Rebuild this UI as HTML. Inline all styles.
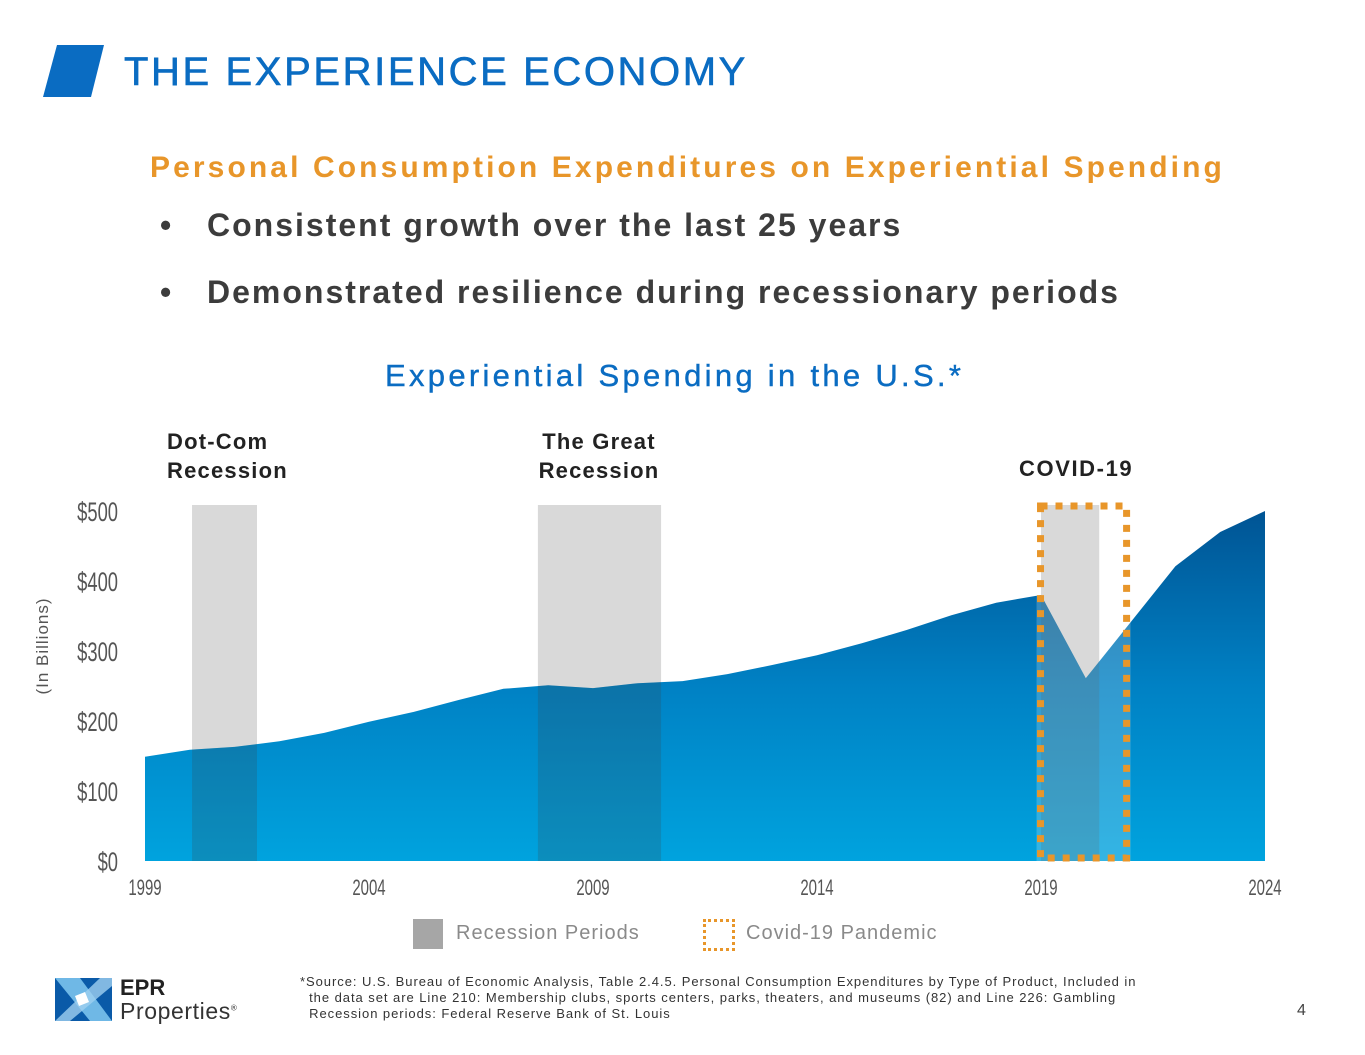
<!DOCTYPE html>
<html><head><meta charset="utf-8"><style>
body{margin:0;width:1365px;height:1055px;background:#fff;overflow:hidden;font-family:"Liberation Sans",sans-serif;position:relative}
.abs{position:absolute;white-space:nowrap}
</style></head><body>
<div class="abs" style="left:43px;top:45px;width:0;height:0;border-bottom:52px solid #0a6cc2;border-left:14px solid transparent;border-right:0;"></div>
<div class="abs" style="left:57px;top:45px;width:34px;height:52px;background:#0a6cc2"></div>
<div class="abs" style="left:91px;top:45px;width:0;height:0;border-top:52px solid #0a6cc2;border-right:13px solid transparent"></div>
<div class="abs" style="left:124px;top:50px;font-size:40px;color:#0a6cc2;letter-spacing:2.6px;-webkit-text-stroke:0.6px #0a6cc2">THE EXPERIENCE ECONOMY</div>
<div class="abs" style="left:150px;top:151px;font-size:30px;font-weight:bold;color:#e8962a;letter-spacing:3.1px">Personal Consumption Expenditures on Experiential Spending</div>
<div class="abs" style="left:160px;top:207px;font-size:32px;font-weight:bold;color:#3c3c3c;letter-spacing:2px">•<span style="position:absolute;left:47px">Consistent growth over the last 25 years</span></div>
<div class="abs" style="left:160px;top:274px;font-size:32px;font-weight:bold;color:#3c3c3c;letter-spacing:2px">•<span style="position:absolute;left:47px">Demonstrated resilience during recessionary periods</span></div>
<div class="abs" style="left:385px;top:358px;font-size:31px;color:#0a6cc2;letter-spacing:3.3px;-webkit-text-stroke:0.4px #0a6cc2">Experiential Spending in the U.S.*</div>
<div class="abs" style="left:167px;top:427px;font-size:22px;font-weight:bold;color:#222;line-height:29px;letter-spacing:1.2px">Dot-Com<br>Recession</div>
<div class="abs" style="left:536px;top:427px;width:126px;font-size:22px;font-weight:bold;color:#222;line-height:29px;text-align:center;letter-spacing:1.2px">The Great<br>Recession</div>
<div class="abs" style="left:1019px;top:456px;font-size:22px;font-weight:bold;color:#222;letter-spacing:1.6px">COVID-19</div>
<svg class="abs" style="left:0;top:0" width="1365" height="1055" id="chart">
<defs><linearGradient id="g" x1="0" y1="0" x2="0" y2="1"><stop offset="0" stop-color="#005494"/><stop offset="0.5" stop-color="#0081c4"/><stop offset="1" stop-color="#00a3de"/></linearGradient>
<clipPath id="ac"><path id="acp"/></clipPath></defs>
<text transform="translate(48,646) rotate(-90)" text-anchor="middle" font-size="17" fill="#555" letter-spacing="1">(In Billions)</text>
</svg>
<div class="abs" style="left:413px;top:919px;width:30px;height:30px;background:#a6a6a6"></div>
<div class="abs" style="left:456px;top:922px;font-size:20px;color:#8a8a8a;letter-spacing:1px">Recession Periods</div>
<div class="abs" style="left:703px;top:919px;width:26px;height:26px;border:3px dotted #e8962a"></div>
<div class="abs" style="left:746px;top:922px;font-size:20px;color:#8a8a8a;letter-spacing:1px">Covid-19 Pandemic</div>
<div class="abs" style="left:55px;top:978px;width:57px;height:43px;background:#0a5aa8;overflow:hidden">
<svg width="57" height="43"><polygon points="0,0 25,0 57,43 35,43" fill="#6fb8e6"/><polygon points="0,43 15,43 57,8 57,0 45,0" fill="#9fd0f0" opacity="0.8"/><polygon points="20,18 30,14 34,24 24,28" fill="#fff"/></svg></div>
<div class="abs" style="left:120px;top:975px;font-size:22px;font-weight:bold;color:#222">EPR</div>
<div class="abs" style="left:120px;top:998px;font-size:23px;color:#333;letter-spacing:0.6px">Properties<sup style="font-size:8px">®</sup></div>
<div class="abs" style="left:300px;top:974px;font-size:13px;color:#333;line-height:16px;letter-spacing:0.95px">*Source: U.S. Bureau of Economic Analysis, Table 2.4.5. Personal Consumption Expenditures by Type of Product, Included in<br>&nbsp;&nbsp;the data set are Line 210: Membership clubs, sports centers, parks, theaters, and museums (82) and Line 226: Gambling<br>&nbsp;&nbsp;Recession periods: Federal Reserve Bank of St. Louis</div>
<div class="abs" style="left:1297px;top:1002px;font-size:16px;color:#444">4</div>
<script>
const years=[1999,2000,2001,2002,2003,2004,2005,2006,2007,2008,2009,2010,2011,2012,2013,2014,2015,2016,2017,2018,2019,2020,2021,2022,2023,2024];
const spending=[149,159,163,171,183,199,213,230,246,251,247,254,257,267,280,294,311,330,351,369,380,261,341,421,470,500];
const yTicks=[0,100,200,300,400,500];
const xTicks=[1999,2004,2009,2014,2019,2024];
const recessions=[[2000.05,2001.5],[2007.77,2010.52],[2019.0,2020.3]];
const covid=[2018.9,2021.0];
const NS="http://www.w3.org/2000/svg";
const svg=document.getElementById('chart');
const x=v=>145+(v-1999)*44.8;
const y=v=>861-v*0.7;
function mk(t,a){const e=document.createElementNS(NS,t);for(const k in a)e.setAttribute(k,a[k]);svg.appendChild(e);return e;}
let d='M'+x(years[0])+','+y(0);
years.forEach((yr,i)=>{d+=' L'+x(yr)+','+y(spending[i]);});
d+=' L'+x(years[years.length-1])+','+y(0)+' Z';
document.getElementById('acp').setAttribute('d',d);
recessions.forEach((r,i)=>{const e=mk('rect',{x:x(r[0]),y:505,width:x(r[1])-x(r[0]),height:861-505,fill:'#d9d9d9'});

});
const area=mk('path',{d:d,fill:'url(#g)'});


recessions.forEach((r,i)=>{const e=mk('rect',{x:x(r[0]),y:505,width:x(r[1])-x(r[0]),height:861-505,fill:'#3a3a3a',opacity:0.2,'clip-path':'url(#ac)'});

});
const co=mk('rect',{x:x(covid[0]),y:505,width:x(covid[1])-x(covid[0]),height:356,fill:'#fff',opacity:0.2,'clip-path':'url(#ac)'});


const cb=mk('rect',{x:x(covid[0])+4,y:506,width:x(covid[1])-x(covid[0])-8,height:352,fill:'none',stroke:'#e8962a','stroke-width':7,'stroke-dasharray':'7,8'});


yTicks.forEach(v=>{const t=mk('text',{x:118,y:y(v)+10,'text-anchor':'end','font-size':27,fill:'#555',transform:'translate(118,0) scale(0.68,1) translate(-118,0)'});t.textContent='$'+v;

});
xTicks.forEach(v=>{const t=mk('text',{x:x(v),y:895,'text-anchor':'middle','font-size':22,fill:'#555',transform:'translate('+x(v)+',0) scale(0.68,1) translate('+(-x(v))+',0)'});t.textContent=v;

});
</script>
</body></html>
